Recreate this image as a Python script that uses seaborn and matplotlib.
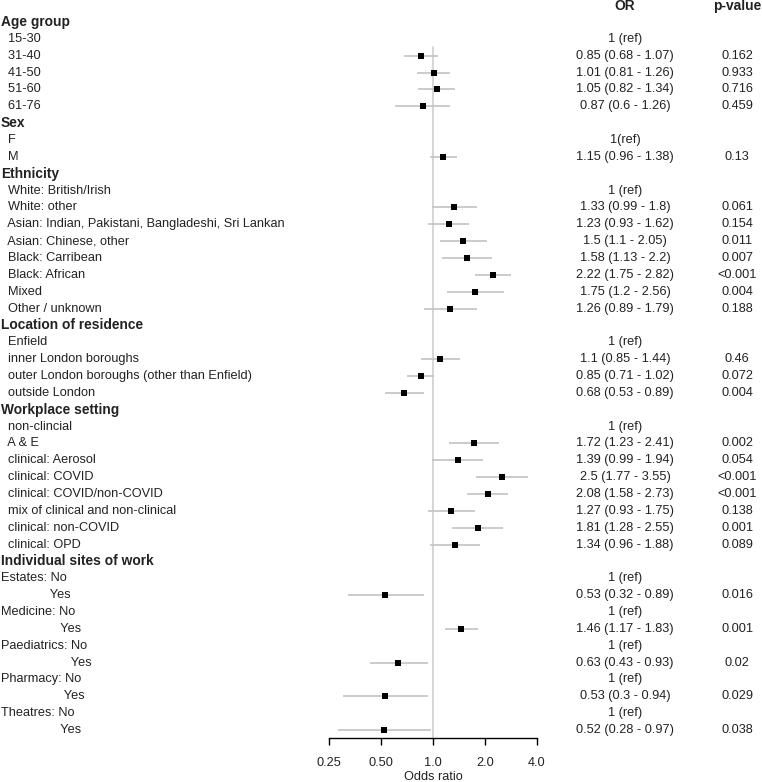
import numpy as np
import pandas as pd
import matplotlib
matplotlib.use("Agg")
import matplotlib.pyplot as plt
import seaborn as sns
from matplotlib.transforms import blended_transform_factory

# ---------------- data ----------------
labels = [
    "Age group", "  15-30", "  31-40", "  41-50", "  51-60", "  61-76",
    "Sex", "  F", "  M",
    "Ethnicity", "  White: British/Irish", "  White: other",
    "  Asian: Indian, Pakistani, Bangladeshi, Sri Lankan", "  Asian: Chinese, other",
    "  Black: Carribean", "  Black: African", "  Mixed", "  Other / unknown",
    "Location of residence", "  Enfield", "  inner London boroughs",
    "  outer London boroughs (other than Enfield)", "  outside London",
    "Workplace setting", "  non-clincial", "  A & E", "  clinical: Aerosol",
    "  clinical: COVID", "  clinical: COVID/non-COVID", "  mix of clinical and non-clinical",
    "  clinical: non-COVID", "  clinical: OPD",
    "Individual sites of work",
    "Estates: No", "              Yes",
    "Medicine: No", "                 Yes",
    "Paediatrics: No", "                    Yes",
    "Pharmacy: No", "                  Yes",
    "Theatres: No", "                 Yes",
]
# h = group header, r = reference category, d = estimate
kinds = [
    "h", "r", "d", "d", "d", "d",
    "h", "r", "d",
    "h", "r", "d", "d", "d", "d", "d", "d", "d",
    "h", "r", "d", "d", "d",
    "h", "r", "d", "d", "d", "d", "d", "d", "d",
    "h",
    "r", "d", "r", "d", "r", "d", "r", "d", "r", "d",
]
or_est = [None, None, 0.85, 1.01, 1.05, 0.87,
          None, None, 1.15,
          None, None, 1.33, 1.23, 1.5, 1.58, 2.22, 1.75, 1.26,
          None, None, 1.1, 0.85, 0.68,
          None, None, 1.72, 1.39, 2.5, 2.08, 1.27, 1.81, 1.34,
          None,
          None, 0.53, None, 1.46, None, 0.63, None, 0.53, None, 0.52]
ci_lo = [None, None, 0.68, 0.81, 0.82, 0.6,
         None, None, 0.96,
         None, None, 0.99, 0.93, 1.1, 1.13, 1.75, 1.2, 0.89,
         None, None, 0.85, 0.71, 0.53,
         None, None, 1.23, 0.99, 1.77, 1.58, 0.93, 1.28, 0.96,
         None,
         None, 0.32, None, 1.17, None, 0.43, None, 0.3, None, 0.28]
ci_hi = [None, None, 1.07, 1.26, 1.34, 1.26,
         None, None, 1.38,
         None, None, 1.8, 1.62, 2.05, 2.2, 2.82, 2.56, 1.79,
         None, None, 1.44, 1.02, 0.89,
         None, None, 2.41, 1.94, 3.55, 2.73, 1.75, 2.55, 1.88,
         None,
         None, 0.89, None, 1.83, None, 0.93, None, 0.94, None, 0.97]
p_values = ["", "", "0.162", "0.933", "0.716", "0.459",
            "", "", "0.13",
            "", "", "0.061", "0.154", "0.011", "0.007", "<0.001", "0.004", "0.188",
            "", "", "0.46", "0.072", "0.004",
            "", "", "0.002", "0.054", "<0.001", "<0.001", "0.138", "0.001", "0.089",
            "",
            "", "0.016", "", "0.001", "", "0.02", "", "0.029", "", "0.038"]
ref_text_default = "1 (ref)"
ref_text_special = {"  F": "1(ref)"}
x_ticks = [0.25, 0.5, 1.0, 2.0, 4.0]
x_tick_labels = ["0.25", "0.50", "1.0", "2.0", "4.0"]

# ---------------- layout ----------------
sns.set_theme(style="white")
plt.rcParams["font.family"] = ["Liberation Sans", "DejaVu Sans"]
FS = 9.2
FSB = 9.9
TXT = "#222222"

W, H = 762, 782
fig = plt.figure(figsize=(W / 100, H / 100), dpi=100)
ax_left, ax_right, ax_bottom_px = 329, 537, 738
ax = fig.add_axes([ax_left / W, (H - ax_bottom_px) / H, (ax_right - ax_left) / W, ax_bottom_px / H])

row_px = 16.857
y_first = 22.0
ylim_top = -y_first / row_px
ylim_bot = (ax_bottom_px - y_first) / row_px

n = len(labels)
rows = np.arange(n)
df = pd.DataFrame({"row": rows, "label": labels, "kind": kinds,
                   "est": or_est, "lo": ci_lo, "hi": ci_hi, "p": p_values})
dd = df[df["kind"] == "d"].copy()
dd[["est", "lo", "hi"]] = dd[["est", "lo", "hi"]].astype(float)

ax.set_xscale("log", base=2)
# reference line
ax.plot([1, 1], [1.5, ylim_bot], color="#cfcfcf", lw=1.2, zorder=1)
# CIs
ax.hlines(dd["row"], dd["lo"], dd["hi"], color="#c2c2c2", lw=1.2, zorder=2)
sns.scatterplot(data=dd, x="est", y="row", marker="s", s=24, color="black",
                edgecolor="black", linewidth=0, ax=ax, zorder=3, legend=False)

ax.set_xlim(0.25, 4)
ax.set_ylim(ylim_bot, ylim_top)
ax.set_xticks(x_ticks)
ax.set_xticklabels(x_tick_labels, fontsize=FS, color=TXT)
ax.minorticks_off()
ax.set_yticks([])
ax.set_xlabel("")
ax.set_ylabel("")
for s in ["top", "right", "left"]:
    ax.spines[s].set_visible(False)
ax.spines["bottom"].set_color("black")
ax.spines["bottom"].set_linewidth(1.0)
ax.spines["bottom"].set_bounds(0.25, 4)
ax.tick_params(axis="x", length=5, width=1.0, color="black", pad=8.5, direction="out", bottom=True)
ax.patch.set_alpha(0)

fig.text(433 / W, 1 - 777 / H, "Odds ratio", ha="center", va="center", fontsize=FS, color=TXT)

tr = blended_transform_factory(fig.transFigure, ax.transData)
x_lab = 1.0 / W
x_or = 625 / W
x_p = 737 / W
for _, r in df.iterrows():
    bold = r["kind"] == "h"
    ax.text(x_lab, r["row"], r["label"], transform=tr, ha="left", va="center",
            fontsize=FSB if bold else FS, fontweight="bold" if bold else "normal",
            color=TXT, clip_on=False)
    if r["kind"] == "r":
        t = ref_text_special.get(r["label"], ref_text_default)
        ax.text(x_or, r["row"], t, transform=tr, ha="center", va="center",
                fontsize=FS, color=TXT, clip_on=False)
    elif r["kind"] == "d":
        t = f"{r['est']:g} ({r['lo']:g} - {r['hi']:g})"
        ax.text(x_or, r["row"], t, transform=tr, ha="center", va="center",
                fontsize=FS, color=TXT, clip_on=False)
        ax.text(x_p, r["row"], r["p"], transform=tr, ha="center", va="center",
                fontsize=FS, color=TXT, clip_on=False)

head_y = (10.0 - y_first) / row_px
ax.text(x_or, head_y, "OR", transform=tr, ha="center", va="baseline",
        fontsize=FSB, fontweight="bold", color=TXT, clip_on=False)
ax.text(x_p, head_y, "p-value", transform=tr, ha="center", va="baseline",
        fontsize=FSB, fontweight="bold", color=TXT, clip_on=False)

fig.savefig("out.png", dpi=100)
